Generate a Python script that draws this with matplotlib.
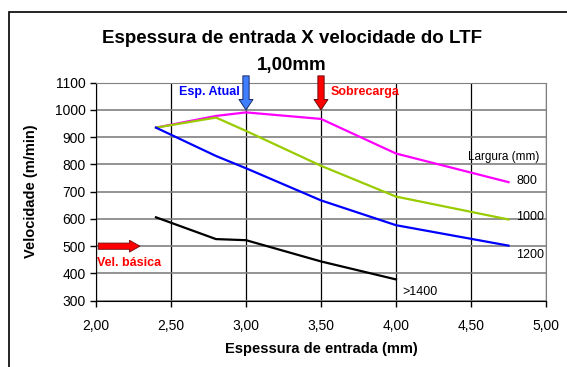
import matplotlib
matplotlib.use('Agg')
import matplotlib.pyplot as plt
from matplotlib.patches import Rectangle

plt.rcParams['font.family'] = ['Liberation Sans', 'DejaVu Sans']

# espessura de entrada (mm)
x = [2.4, 2.8, 3.0, 3.5, 4.0, 4.75]
v800 = [935, 978, 991, 967, 840, 735]
v1000 = [935, 972, 923, 795, 682, 598]
v1200 = [935, 831, 786, 668, 577, 502]
x1400 = [2.4, 2.8, 3.0, 3.5, 4.0]
v1400 = [606, 526, 522, 444, 378]

xticks = [2.0, 2.5, 3.0, 3.5, 4.0, 4.5, 5.0]
xtick_labels = ['2,00', '2,50', '3,00', '3,50', '4,00', '4,50', '5,00']
yticks = [300, 400, 500, 600, 700, 800, 900, 1000, 1100]

fig = plt.figure(figsize=(5.67, 3.67), dpi=100)
ax = fig.add_axes([0.1693, 0.1807, 0.7937, 0.594])

# moldura externa (cortada na direita e embaixo)
fig.patches.append(Rectangle((0.0164, -0.1), 1.1, 1.068, transform=fig.transFigure,
                             fill=False, edgecolor='black', linewidth=1.2))

ax.plot(x, v800, color='#ff00ff', lw=1.6)
ax.plot(x, v1000, color='#99cc00', lw=1.6)
ax.plot(x, v1200, color='#0000ff', lw=1.6)
ax.plot(x1400, v1400, color='black', lw=1.6)

ax.set_xlim(2.0, 5.0)
ax.set_ylim(300, 1100)
ax.set_xticks(xticks)
ax.set_xticklabels(xtick_labels)
ax.set_yticks(yticks)
ax.tick_params(labelsize=10, length=4.5, width=1, direction='out', pad=3)
ax.tick_params(axis='x', pad=9)

ax.grid(axis='y', color='#808080', lw=1.2)
ax.grid(axis='x', color='black', lw=0.9)
for s in ['top', 'right']:
    ax.spines[s].set_color('#808080')
for s in ['left', 'bottom']:
    ax.spines[s].set_color('black')
ax.set_axisbelow(True)

ax.set_xlabel('Espessura de entrada (mm)', fontsize=10.5, fontweight='bold', labelpad=6)
ax.set_ylabel('Velocidade (m/min)', fontsize=10.5, fontweight='bold', labelpad=12)

fig.text(0.515, 0.895, 'Espessura de entrada X velocidade do LTF', ha='center', va='center',
         fontsize=13.5, fontweight='bold')
fig.text(0.515, 0.822, '1,00mm', ha='center', va='center', fontsize=13.5, fontweight='bold')

# setas
vstyle = 'simple,head_length=0.75,head_width=1.0,tail_width=0.45'
ax.annotate('', xy=(3.0, 1000), xytext=(3.0, 1125), annotation_clip=False,
            arrowprops=dict(arrowstyle=vstyle, mutation_scale=10, shrinkA=0, shrinkB=0,
                            facecolor='#3f7fff', edgecolor='#1a2a6a', lw=0.7))
ax.annotate('', xy=(3.5, 1000), xytext=(3.5, 1125), annotation_clip=False,
            arrowprops=dict(arrowstyle=vstyle, mutation_scale=10, shrinkA=0, shrinkB=0,
                            facecolor='#ff0000', edgecolor='#6a1010', lw=0.7))
ax.annotate('', xy=(2.293, 500), xytext=(2.015, 500),
            arrowprops=dict(arrowstyle='simple,head_length=0.75,head_width=0.85,tail_width=0.45',
                            mutation_scale=10, shrinkA=0, shrinkB=0,
                            facecolor='#ff0000', edgecolor='#6a1010', lw=0.6))

ax.text(2.955, 1067, 'Esp. Atual', color='#0000ff', fontsize=9, fontweight='bold',
        ha='right', va='center')
ax.text(3.565, 1067, 'Sobrecarga', color='#ff0000', fontsize=9, fontweight='bold',
        ha='left', va='center')
ax.text(2.007, 440, 'Vel. básica', color='#ff0000', fontsize=9, fontweight='bold',
        ha='left', va='center')

ax.text(4.477, 827, 'Largura (mm)', fontsize=8.5, ha='left', va='center')
ax.text(4.80, 739, '800', fontsize=9, ha='left', va='center')
ax.text(4.80, 607, '1000', fontsize=9, ha='left', va='center')
ax.text(4.80, 466, '1200', fontsize=9, ha='left', va='center')
ax.text(4.045, 332, '>1400', fontsize=9, ha='left', va='center')

fig.savefig('out.png', dpi=100)
